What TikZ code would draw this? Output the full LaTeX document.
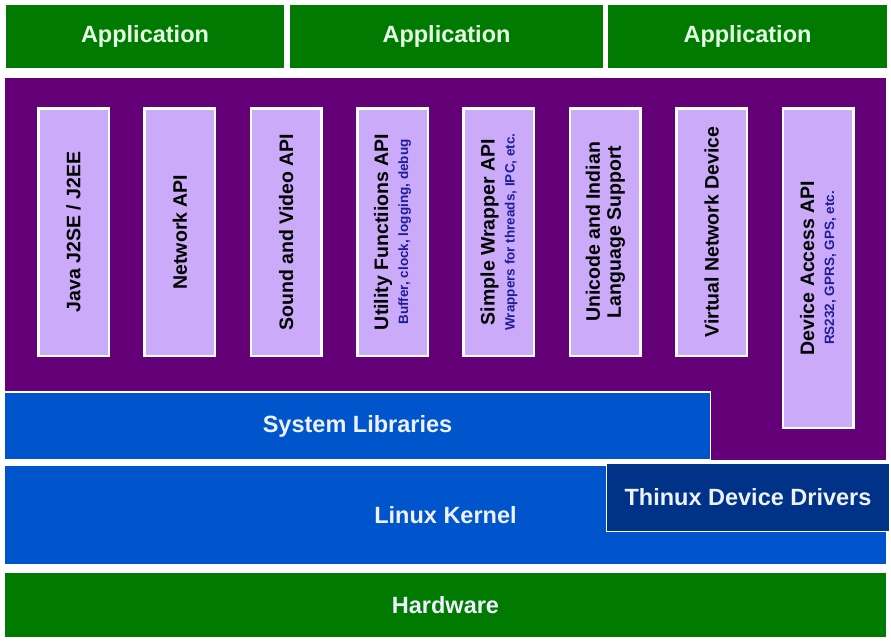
\documentclass[tikz,border=0pt]{standalone}
\usepackage{fontspec}
\setmainfont{Liberation Sans}
\definecolor{appgreen}{RGB}{0,122,0}
\definecolor{deeppurple}{RGB}{100,0,120}
\definecolor{lightpurple}{RGB}{204,170,250}
\definecolor{libblue}{RGB}{0,85,205}
\definecolor{drvblue}{RGB}{0,50,135}
\definecolor{subnavy}{RGB}{30,30,150}
\definecolor{apptext}{RGB}{228,255,228}
\definecolor{lighttext}{RGB}{238,242,255}
\begin{document}
\begin{tikzpicture}[x=1pt,y=-1pt,
  layer/.style={draw=white, line width=1.5pt, inner sep=0pt, text=lighttext,
    font=\fontsize{23.5}{28}\selectfont\bfseries},
  appbox/.style={layer, fill=appgreen, text=apptext},
  apibox/.style={draw=white, line width=2.5pt, fill=lightpurple, inner sep=0pt,
    rotate=90, align=center, text=black, minimum height=70.5pt,
    font=\fontsize{19.5}{23}\selectfont\bfseries},
  subline/.style={}]
\useasboundingbox (0,0) rectangle (891,642);
\fill[white] (0,0) rectangle (891,642);

% applications
\node[appbox, minimum width=280pt, minimum height=65pt] (app1) at (145,36.5) {Application};
\node[appbox, minimum width=315pt, minimum height=65pt] (app2) at (446.5,36.5) {Application};
\node[appbox, minimum width=280pt, minimum height=65pt] (app3) at (747.5,36.5) {Application};

% purple middleware area
\node[draw=white, line width=1.5pt, fill=deeppurple, minimum width=883pt, minimum height=384pt, inner sep=0pt] (mid) at (445.5,269) {};

% API boxes
\node[apibox, minimum width=247.5pt] (java) at (73.5,232) {Java J2SE / J2EE};
\node[apibox, minimum width=247.5pt] (net) at (179.9,232) {Network API};
\node[apibox, minimum width=247.5pt] (snd) at (286.2,232) {Sound and Video API};
\node[apibox, minimum width=247.5pt] (util) at (392.6,232) {Utility Functiions API\\[-3pt]{\fontsize{13.5}{16}\selectfont\color{subnavy}Buffer, clock, logging, debug}};
\node[apibox, minimum width=247.5pt] (wrap) at (498.9,232) {Simple Wrapper API\\[-3pt]{\fontsize{13.5}{16}\selectfont\color{subnavy}Wrappers for threads, IPC, etc.}};
\node[apibox, minimum width=247.5pt] (uni) at (605.3,232) {Unicode and Indian\\[-2pt]Language Support};
\node[apibox, minimum width=247.5pt] (vnd) at (711.7,232) {Virtual Network Device};
\node[apibox, minimum width=319.5pt] (dev) at (818,268) {Device Access API\\[-3pt]{\fontsize{13.5}{16}\selectfont\color{subnavy}RS232, GPRS, GPS, etc.}};

% system libraries
\node[layer, fill=libblue, minimum width=706pt, minimum height=68pt] (syslib) at (357.5,426) {System Libraries};

% linux kernel
\node[layer, fill=libblue, minimum width=883pt, minimum height=100pt] (kernel) at (445.5,515) {Linux Kernel};
\node[layer, fill=drvblue, minimum width=283pt, minimum height=68pt] (drv) at (748,497.5) {Thinux Device Drivers};

% hardware
\node[layer, fill=appgreen, minimum width=883pt, minimum height=66pt] (hw) at (445.5,605) {Hardware};
\end{tikzpicture}
\end{document}
